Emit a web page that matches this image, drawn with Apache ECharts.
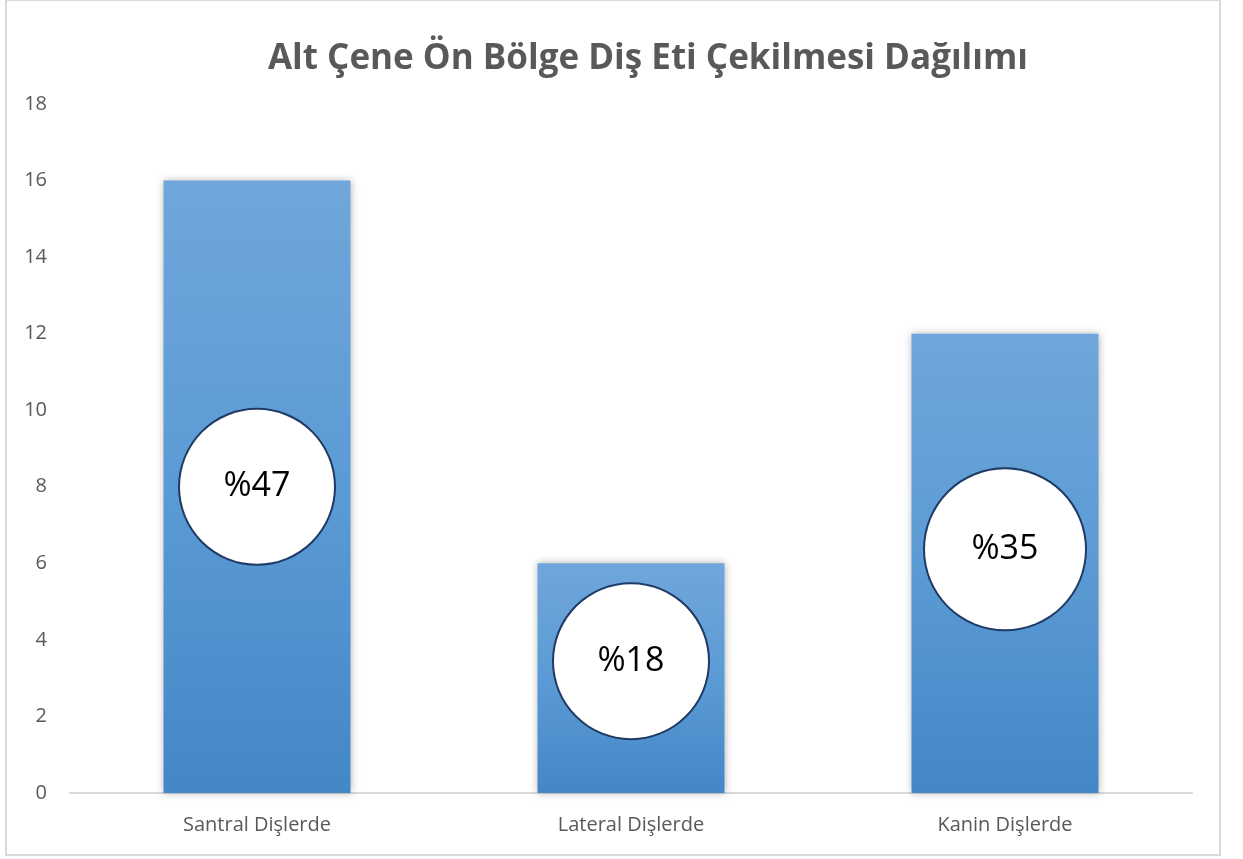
<!DOCTYPE html>
<html>
<head>
<meta charset="utf-8">
<script src="https://cdn.jsdelivr.net/npm/echarts@6/dist/echarts.min.js"></script>
<style>
html,body{margin:0;padding:0;background:#fff;}
#chart{width:1243px;height:859px;}
</style>
</head>
<body>
<div id="chart"></div>
<script>
var categories = ['Santral Dişlerde', 'Lateral Dişlerde', 'Kanin Dişlerde'];
var counts = [16, 6, 12];
var percentLabels = ['%47', '%18', '%35'];
var yTicks = [0, 18, 2]; // min, max, interval

var chart = echarts.init(document.getElementById('chart'));

// where the round labels sit, relative to bar middle (Excel placed them a bit higher on short bars)
var labelShift = [0, -17, -14];
var labelSize = [154, 154, 160];

var barData = counts.map(function (v, i) {
	var s = labelSize[i];
	return {
		value: v,
		label: {
			show: true,
			position: 'inside',
			offset: [0, labelShift[i]],
			formatter: percentLabels[i],
			width: s,
			height: s,
			lineHeight: s,
			borderRadius: s / 2,
			align: 'center',
			verticalAlign: 'middle',
			backgroundColor: '#ffffff',
			borderColor: '#1f3a64',
			borderWidth: 2,
			color: '#000000',
			fontSize: 34,
			fontFamily: 'Open Sans'
		}
	};
});

option = {
	backgroundColor: '#ffffff',
	title: {
		text: 'Alt Çene Ön Bölge Diş Eti Çekilmesi Dağılımı',
		left: 643,
		textAlign: 'center',
		top: 37,
		textStyle: {
			fontFamily: 'Open Sans',
			fontWeight: 'bold',
			fontSize: 35,
			color: '#595959'
		}
	},
	graphic: [{
		type: 'rect',
		shape: {x: 6, y: 0, width: 1214, height: 855},
		style: {fill: 'none', stroke: '#d9d9d9', lineWidth: 2},
		silent: true,
		z: -1
	}],
	grid: {
		left: 70,
		right: 51,
		top: 104,
		bottom: 66
	},
	xAxis: {
		type: 'category',
		data: categories,
		axisTick: {show: false},
		axisLine: {lineStyle: {color: '#d9d9d9', width: 2}},
		axisLabel: {
			color: '#595959',
			fontSize: 20,
			fontFamily: 'Open Sans',
			margin: 22
		}
	},
	yAxis: {
		type: 'value',
		min: yTicks[0],
		max: yTicks[1],
		interval: yTicks[2],
		splitLine: {show: false},
		axisLine: {show: false},
		axisTick: {show: false},
		axisLabel: {
			color: '#595959',
			fontSize: 20,
			fontFamily: 'Open Sans',
			margin: 23
		}
	},
	series: [{
		type: 'bar',
		barWidth: '50%',
		itemStyle: {
			color: new echarts.graphic.LinearGradient(0, 0, 0, 1, [
				{offset: 0, color: '#70a6db'},
				{offset: 0.5, color: '#5b9bd5'},
				{offset: 1, color: '#4487c7'}
			]),
			shadowBlur: 8,
			shadowColor: 'rgba(0,0,0,0.3)'
		},
		data: barData
	}]
};

chart.setOption(option);
</script>
</body>
</html>
